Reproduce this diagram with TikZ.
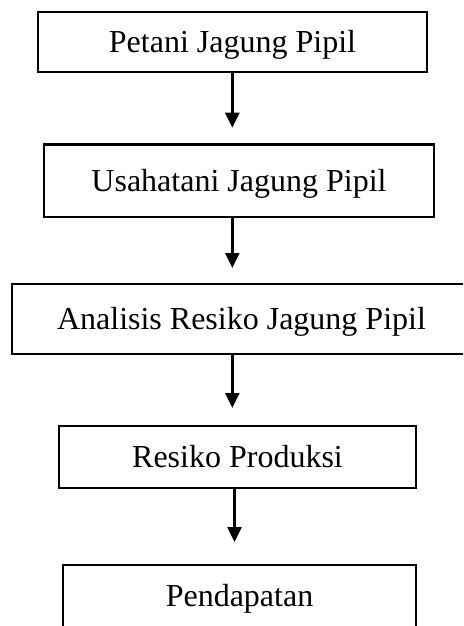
\documentclass[tikz,border=0pt]{standalone}
\usepackage{fontspec}
\setmainfont{Liberation Serif}
\usetikzlibrary{arrows.meta}
\begin{document}
\begin{tikzpicture}[x=0.5pt,y=-0.5pt,
  box/.style={draw=black, line width=1.3pt, rectangle, inner sep=0pt,
    font=\fontsize{16}{19}\selectfont, text height=10.6pt, text depth=0pt},
  arr/.style={line width=1.25pt, -{Triangle[width=7pt,length=7.5pt]}}]
\useasboundingbox (0,0) rectangle (463,626);
\clip (0,0) rectangle (463,626);
\node[box, minimum width=194.5pt, minimum height=30pt] (b1) at (232.5,42) {Petani Jagung Pipil};
\node[box, minimum width=195pt, minimum height=36.25pt] (b2) at (239,180.75) {Usahatani Jagung Pipil};
\node[box, minimum width=229.5pt, minimum height=35pt] (b3) at (241.5,319) {Analisis Resiko Jagung Pipil};
\node[box, minimum width=178.5pt, minimum height=31pt] (b4) at (237.5,457) {Resiko Produksi};
\node[box, minimum width=176.5pt, minimum height=31pt] (b5) at (239.5,596) {Pendapatan};
\coordinate (e1) at (232.3,127.7);
\coordinate (e2) at (232.3,268);
\coordinate (e3) at (232.3,408);
\coordinate (e4) at (234.5,542);
\draw[arr] (b1.south -| e1) -- (e1);
\draw[arr] (b2.south -| e2) -- (e2);
\draw[arr] (b3.south -| e3) -- (e3);
\draw[arr] (b4.south -| e4) -- (e4);
\end{tikzpicture}
\end{document}
